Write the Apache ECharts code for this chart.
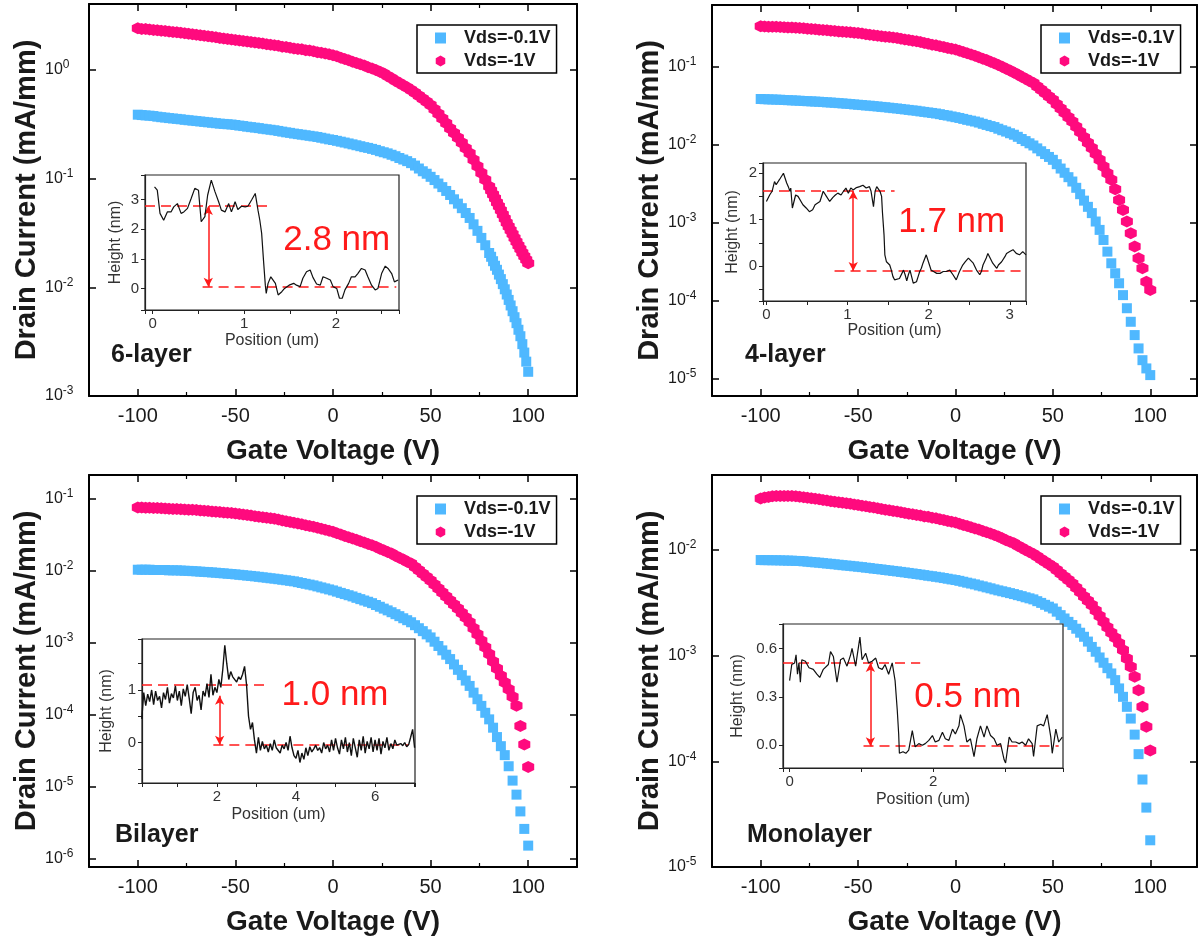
<!DOCTYPE html>
<html>
<head>
<meta charset="utf-8">
<title>Drain current vs gate voltage</title>
<script src="https://cdn.jsdelivr.net/npm/echarts@6.0.0/dist/echarts.min.js"></script>
<style>
html,body{margin:0;padding:0;background:#fff;}
#chart{width:1198px;height:942px;}
</style>
</head>
<body>
<div id="chart"></div>
<script>
// ================= DATA =================
const gateVoltage = [-100,-98,-96,-94,-92,-90,-88,-86,-84,-82,-80,-78,-76,-74,-72,-70,-68,-66,-64,-62,-60,-58,-56,-54,-52,-50,-48,-46,-44,-42,-40,-38,-36,-34,-32,-30,-28,-26,-24,-22,-20,-18,-16,-14,-12,-10,-8,-6,-4,-2,0,2,4,6,8,10,12,14,16,18,20,22,24,26,28,30,32,34,36,38,40,42,44,46,48,50,52,54,56,58,60,62,64,66,68,70,72,74,76,78,80,82,84,86,88,90,92,94,96,98,100];
// the 6-layer sweep is recorded with a finer step above 80 V
const gateVoltageSix = [-100,-98,-96,-94,-92,-90,-88,-86,-84,-82,-80,-78,-76,-74,-72,-70,-68,-66,-64,-62,-60,-58,-56,-54,-52,-50,-48,-46,-44,-42,-40,-38,-36,-34,-32,-30,-28,-26,-24,-22,-20,-18,-16,-14,-12,-10,-8,-6,-4,-2,0,2,4,6,8,10,12,14,16,18,20,22,24,26,28,30,32,34,36,38,40,42,44,46,48,50,52,54,56,58,60,62,64,66,68,70,72,74,76,78,80,81,82,83,84,85,86,87,88,89,90,91,92,93,94,95,96,97,98,99,100];
const seriesNames = ['Vds=-0.1V', 'Vds=-1V'];
const gateTickLabels = [-100, -50, 0, 50, 100];

// 6-layer
const sixLayerLow = [0.388,0.385,0.382,0.380,0.377,0.372,0.368,0.365,0.361,0.358,0.355,0.352,0.348,0.345,0.342,0.339,0.336,0.333,0.330,0.327,0.324,0.321,0.319,0.317,0.315,0.312,0.308,0.305,0.301,0.298,0.295,0.292,0.288,0.285,0.282,0.279,0.275,0.271,0.267,0.264,0.260,0.257,0.254,0.251,0.248,0.245,0.242,0.238,0.234,0.230,0.227,0.223,0.219,0.215,0.211,0.207,0.203,0.199,0.195,0.192,0.188,0.184,0.179,0.175,0.171,0.166,0.161,0.155,0.150,0.145,0.139,0.132,0.124,0.117,0.111,0.104,0.0971,0.0902,0.0836,0.0771,0.0708,0.0646,0.0589,0.0535,0.0483,0.0435,0.0380,0.0331,0.0285,0.0244,0.0207,0.0191,0.0174,0.0158,0.0145,0.0131,0.0119,0.0107,0.00959,0.00859,0.00766,0.00681,0.00603,0.00531,0.00468,0.00407,0.00355,0.00300,0.00251,0.00207,0.00167];
const sixLayerHigh = [2.42,2.39,2.38,2.36,2.34,2.32,2.30,2.28,2.26,2.24,2.22,2.20,2.18,2.16,2.13,2.11,2.09,2.07,2.04,2.02,2.00,1.97,1.95,1.93,1.91,1.89,1.87,1.85,1.83,1.81,1.79,1.77,1.75,1.73,1.71,1.69,1.67,1.64,1.63,1.60,1.58,1.56,1.55,1.52,1.51,1.49,1.46,1.44,1.42,1.40,1.37,1.34,1.30,1.26,1.23,1.19,1.16,1.13,1.10,1.06,1.03,1.00,0.964,0.931,0.883,0.838,0.798,0.759,0.723,0.689,0.655,0.617,0.579,0.545,0.511,0.476,0.435,0.395,0.358,0.324,0.290,0.263,0.238,0.214,0.191,0.171,0.149,0.130,0.113,0.0979,0.0845,0.0778,0.0716,0.0659,0.0605,0.0556,0.0511,0.0469,0.0431,0.0394,0.0362,0.0335,0.0309,0.0285,0.0263,0.0243,0.0225,0.0208,0.0193,0.0179,0.0167];

// 4-layer
const fourLayerLow = [0.0385,0.0383,0.0381,0.0380,0.0378,0.0377,0.0374,0.0372,0.0370,0.0368,0.0366,0.0363,0.0361,0.0359,0.0357,0.0355,0.0352,0.0349,0.0347,0.0344,0.0341,0.0338,0.0335,0.0332,0.0328,0.0325,0.0322,0.0318,0.0316,0.0312,0.0309,0.0305,0.0302,0.0298,0.0294,0.0291,0.0287,0.0283,0.0279,0.0275,0.0272,0.0267,0.0263,0.0259,0.0255,0.0251,0.0246,0.0240,0.0236,0.0230,0.0225,0.0220,0.0214,0.0208,0.0203,0.0198,0.0192,0.0185,0.0179,0.0173,0.0168,0.0160,0.0153,0.0147,0.0140,0.0134,0.0126,0.0118,0.0111,0.0104,0.00975,0.00895,0.00822,0.00757,0.00695,0.00638,0.00561,0.00493,0.00435,0.00382,0.00336,0.00279,0.00231,0.00191,0.00159,0.00132,0.00103,0.000804,0.000597,0.000423,0.000300,0.000223,0.000166,0.000117,0.0000794,0.0000532,0.0000359,0.0000242,0.0000171,0.0000134,0.0000110];
const fourLayerHigh = [0.330,0.328,0.327,0.326,0.325,0.324,0.321,0.320,0.318,0.316,0.314,0.311,0.308,0.305,0.302,0.299,0.296,0.293,0.290,0.287,0.284,0.282,0.279,0.277,0.274,0.271,0.267,0.262,0.258,0.254,0.250,0.247,0.243,0.240,0.237,0.233,0.229,0.224,0.220,0.216,0.212,0.207,0.202,0.197,0.192,0.188,0.183,0.179,0.174,0.170,0.166,0.160,0.154,0.149,0.144,0.138,0.132,0.127,0.122,0.116,0.111,0.105,0.0998,0.0944,0.0893,0.0845,0.0794,0.0745,0.0700,0.0656,0.0617,0.0558,0.0506,0.0459,0.0416,0.0377,0.0331,0.0291,0.0256,0.0225,0.0198,0.0169,0.0145,0.0124,0.0106,0.00902,0.00762,0.00638,0.00524,0.00430,0.00353,0.00268,0.00195,0.00145,0.00103,0.000728,0.000491,0.000348,0.000258,0.000174,0.000136];

// Bilayer
const biLayerLow = [0.0102,0.0102,0.0102,0.0102,0.0101,0.0101,0.0101,0.0101,0.0100,0.0100,0.0100,0.00993,0.00987,0.00982,0.00975,0.00968,0.00959,0.00951,0.00944,0.00935,0.00927,0.00916,0.00908,0.00897,0.00889,0.00879,0.00867,0.00857,0.00845,0.00836,0.00824,0.00813,0.00800,0.00789,0.00776,0.00766,0.00753,0.00740,0.00728,0.00715,0.00703,0.00685,0.00667,0.00650,0.00634,0.00618,0.00598,0.00579,0.00561,0.00543,0.00526,0.00506,0.00486,0.00468,0.00451,0.00434,0.00415,0.00398,0.00381,0.00366,0.00350,0.00330,0.00312,0.00294,0.00278,0.00262,0.00246,0.00231,0.00216,0.00203,0.00190,0.00173,0.00157,0.00143,0.00129,0.00117,0.00102,0.000889,0.000773,0.000673,0.000585,0.000493,0.000415,0.000350,0.000294,0.000248,0.000200,0.000162,0.000131,0.000105,0.0000851,0.0000652,0.0000483,0.0000361,0.0000271,0.0000190,0.0000120,0.00000766,0.00000448,0.00000256,0.00000150];
const biLayerHigh = [0.0748,0.0745,0.0741,0.0740,0.0736,0.0733,0.0728,0.0723,0.0719,0.0714,0.0710,0.0705,0.0700,0.0697,0.0692,0.0687,0.0679,0.0673,0.0665,0.0659,0.0652,0.0644,0.0638,0.0631,0.0625,0.0618,0.0607,0.0597,0.0586,0.0577,0.0566,0.0557,0.0547,0.0538,0.0528,0.0520,0.0507,0.0494,0.0481,0.0469,0.0457,0.0446,0.0435,0.0424,0.0413,0.0403,0.0390,0.0378,0.0366,0.0354,0.0343,0.0328,0.0315,0.0301,0.0289,0.0277,0.0265,0.0254,0.0243,0.0233,0.0223,0.0212,0.0200,0.0190,0.0180,0.0171,0.0160,0.0150,0.0141,0.0132,0.0124,0.0111,0.0100,0.00897,0.00807,0.00724,0.00638,0.00561,0.00493,0.00434,0.00381,0.00336,0.00295,0.00256,0.00221,0.00190,0.00157,0.00129,0.00105,0.000851,0.000687,0.000543,0.000434,0.000343,0.000277,0.000223,0.000175,0.000131,0.0000687,0.0000381,0.0000186];

// Monolayer
const monoLayerLow = [0.00804,0.00802,0.00802,0.00800,0.00800,0.00798,0.00796,0.00794,0.00793,0.00789,0.00787,0.00782,0.00776,0.00769,0.00764,0.00759,0.00752,0.00745,0.00740,0.00733,0.00726,0.00719,0.00713,0.00708,0.00701,0.00695,0.00689,0.00681,0.00675,0.00667,0.00661,0.00655,0.00647,0.00641,0.00634,0.00628,0.00621,0.00614,0.00607,0.00600,0.00593,0.00586,0.00579,0.00571,0.00565,0.00558,0.00551,0.00543,0.00535,0.00527,0.00520,0.00511,0.00501,0.00491,0.00482,0.00473,0.00462,0.00453,0.00443,0.00434,0.00424,0.00415,0.00407,0.00399,0.00391,0.00383,0.00374,0.00366,0.00357,0.00349,0.00341,0.00328,0.00316,0.00303,0.00291,0.00280,0.00261,0.00242,0.00225,0.00209,0.00195,0.00180,0.00165,0.00151,0.00136,0.00121,0.00109,0.000962,0.000857,0.000762,0.000679,0.000587,0.000490,0.000408,0.000328,0.000254,0.000179,0.000117,0.0000673,0.0000365,0.0000179];
const monoLayerHigh = [0.0308,0.0314,0.0318,0.0322,0.0324,0.0325,0.0325,0.0325,0.0324,0.0322,0.0320,0.0316,0.0313,0.0309,0.0305,0.0302,0.0298,0.0294,0.0290,0.0287,0.0283,0.0280,0.0277,0.0274,0.0270,0.0267,0.0263,0.0259,0.0255,0.0252,0.0248,0.0245,0.0241,0.0238,0.0234,0.0231,0.0228,0.0224,0.0221,0.0218,0.0215,0.0212,0.0208,0.0206,0.0202,0.0200,0.0196,0.0192,0.0188,0.0185,0.0182,0.0177,0.0173,0.0169,0.0164,0.0160,0.0156,0.0151,0.0147,0.0143,0.0139,0.0134,0.0129,0.0124,0.0120,0.0116,0.0110,0.0105,0.0100,0.00959,0.00916,0.00867,0.00820,0.00776,0.00735,0.00695,0.00646,0.00601,0.00558,0.00520,0.00483,0.00440,0.00400,0.00364,0.00331,0.00301,0.00267,0.00237,0.00210,0.00186,0.00165,0.00148,0.00131,0.00113,0.000942,0.000785,0.000631,0.000472,0.000328,0.000212,0.000127];

// AFM height profiles (insets): position (um) and height (nm)
const sixProfileX = [0.02,0.05,0.08,0.12,0.16,0.20,0.23,0.27,0.31,0.34,0.38,0.42,0.46,0.50,0.53,0.57,0.60,0.64,0.68,0.72,0.75,0.79,0.83,0.86,0.90,0.93,0.97,1.01,1.04,1.08,1.12,1.15,1.17,1.19,1.21,1.23,1.24,1.26,1.29,1.31,1.34,1.37,1.41,1.44,1.49,1.54,1.57,1.61,1.64,1.68,1.72,1.75,1.79,1.83,1.86,1.90,1.94,1.97,2.01,2.04,2.07,2.10,2.14,2.17,2.21,2.24,2.28,2.32,2.35,2.39,2.43,2.46,2.50,2.54,2.57,2.61,2.64,2.68];
const sixProfileY = [3.42,3.31,2.53,2.30,2.58,2.58,2.75,2.86,2.53,2.58,2.70,3.03,3.37,3.31,2.25,2.42,3.14,3.65,3.26,2.92,2.64,2.58,2.86,2.58,2.92,2.66,2.77,2.75,2.77,2.98,3.20,2.64,2.30,1.86,0.96,0.12,-0.16,0.18,0.40,0.38,0.18,-0.21,-0.10,0.01,0.12,0.18,0.12,0.07,0.35,0.57,0.63,0.38,0.16,0.12,0.40,0.35,0.29,0.07,0.01,-0.32,-0.32,-0.04,0.18,0.40,0.40,0.51,0.68,0.63,0.40,0.12,-0.04,0.01,0.51,0.76,0.68,0.51,0.23,0.29];
const fourProfileX = [0.00,0.04,0.07,0.10,0.12,0.16,0.18,0.21,0.23,0.25,0.27,0.29,0.30,0.32,0.34,0.36,0.39,0.41,0.45,0.49,0.53,0.57,0.60,0.62,0.66,0.70,0.74,0.78,0.82,0.85,0.88,0.92,0.95,0.98,1.01,1.04,1.07,1.11,1.15,1.19,1.23,1.27,1.29,1.32,1.34,1.36,1.38,1.40,1.42,1.43,1.45,1.46,1.48,1.50,1.52,1.54,1.56,1.58,1.60,1.64,1.69,1.71,1.73,1.75,1.77,1.79,1.81,1.83,1.85,1.87,1.89,1.91,1.93,1.97,1.99,2.01,2.03,2.06,2.10,2.12,2.14,2.18,2.22,2.24,2.26,2.28,2.30,2.34,2.38,2.40,2.42,2.45,2.47,2.49,2.51,2.55,2.59,2.63,2.65,2.67,2.71,2.73,2.75,2.79,2.84,2.86,2.90,2.94,2.96,3.00,3.04,3.08,3.12,3.16,3.20];
const fourProfileY = [1.39,1.53,1.61,1.82,1.75,1.86,1.82,2.00,1.97,1.79,1.71,1.61,1.68,1.25,1.39,1.53,1.50,1.46,1.32,1.25,1.17,1.21,1.32,1.35,1.39,1.61,1.50,1.39,1.48,1.53,1.57,1.53,1.61,1.68,1.57,1.68,1.64,1.69,1.71,1.74,1.68,1.71,1.61,1.28,1.61,1.71,1.68,1.61,1.50,1.17,0.67,0.24,0.09,0.13,0.02,-0.09,-0.23,-0.30,-0.34,-0.27,-0.09,-0.19,-0.32,-0.19,-0.09,-0.23,-0.37,-0.41,-0.34,-0.23,-0.12,-0.05,0.06,0.24,0.20,0.02,-0.09,-0.12,-0.16,-0.19,-0.16,-0.12,-0.12,-0.16,-0.09,-0.12,-0.19,-0.30,-0.12,-0.09,0.02,0.09,0.06,0.17,0.20,0.06,-0.09,-0.19,-0.12,0.02,0.17,0.27,0.24,0.06,-0.05,0.02,0.09,0.20,0.27,0.31,0.35,0.27,0.24,0.31,0.24];
const biProfileX = [0.10,0.15,0.20,0.25,0.30,0.35,0.40,0.45,0.50,0.55,0.60,0.65,0.70,0.75,0.80,0.85,0.90,0.95,1.00,1.05,1.10,1.15,1.20,1.25,1.30,1.35,1.40,1.45,1.50,1.55,1.60,1.65,1.70,1.75,1.80,1.85,1.90,1.95,2.00,2.05,2.10,2.15,2.20,2.25,2.30,2.35,2.40,2.45,2.50,2.55,2.60,2.65,2.70,2.75,2.80,2.85,2.90,2.95,3.00,3.05,3.10,3.15,3.20,3.25,3.30,3.35,3.40,3.45,3.50,3.55,3.60,3.65,3.70,3.75,3.80,3.85,3.90,3.95,4.00,4.05,4.10,4.15,4.20,4.25,4.30,4.35,4.40,4.45,4.50,4.55,4.60,4.65,4.70,4.75,4.80,4.85,4.90,4.95,5.00,5.05,5.10,5.15,5.20,5.25,5.30,5.35,5.40,5.45,5.50,5.55,5.60,5.65,5.70,5.75,5.80,5.85,5.90,5.95,6.00,6.05,6.10,6.15,6.20,6.25,6.30,6.35,6.40,6.45,6.50,6.55,6.60,6.65,6.70,6.75,6.80,6.85,6.90,6.95,7.00];
const biProfileY = [0.45,0.95,0.70,0.92,0.78,1.00,0.72,0.98,0.80,0.88,0.66,0.95,0.82,1.05,0.75,0.93,0.85,1.08,0.80,0.98,0.70,1.02,0.88,1.10,0.84,0.55,0.95,1.05,0.80,0.90,0.62,0.98,0.88,1.12,0.86,1.30,0.90,1.05,0.95,1.20,1.05,1.40,1.85,1.50,1.20,1.35,1.25,1.22,1.15,1.25,1.20,1.30,1.45,1.10,0.50,0.25,0.38,0.05,-0.20,0.10,-0.15,0.02,-0.12,-0.05,-0.18,-0.02,-0.15,0.05,-0.10,-0.08,-0.20,-0.05,-0.12,0.00,-0.15,0.12,-0.10,-0.25,-0.30,-0.15,-0.38,-0.20,-0.32,-0.10,-0.25,-0.08,-0.18,-0.12,-0.05,-0.15,-0.10,-0.20,0.00,-0.12,-0.05,-0.18,0.05,-0.15,0.08,-0.10,-0.22,0.05,-0.12,0.10,-0.18,0.00,-0.25,0.08,-0.10,-0.28,0.05,-0.15,0.12,-0.20,0.02,-0.12,0.10,-0.18,0.05,-0.15,0.08,-0.22,0.02,-0.10,0.10,-0.15,-0.02,-0.12,0.05,-0.05,-0.08,-0.02,-0.06,0.00,-0.08,-0.04,0.10,0.25,-0.10];
const monoProfileX = [0.00,0.03,0.07,0.09,0.11,0.13,0.15,0.17,0.22,0.27,0.33,0.38,0.42,0.47,0.54,0.57,0.61,0.66,0.71,0.75,0.80,0.85,0.87,0.92,0.94,0.98,1.01,1.06,1.10,1.15,1.20,1.24,1.29,1.33,1.38,1.43,1.47,1.50,1.52,1.53,1.58,1.62,1.66,1.71,1.75,1.80,1.85,1.89,1.94,1.99,2.03,2.08,2.13,2.17,2.22,2.27,2.31,2.36,2.38,2.43,2.47,2.52,2.57,2.61,2.66,2.71,2.75,2.80,2.85,2.89,2.94,2.99,3.01,3.06,3.10,3.15,3.20,3.24,3.29,3.33,3.38,3.40,3.45,3.50,3.54,3.59,3.64,3.66,3.71,3.75,3.80];
const monoProfileY = [0.40,0.50,0.51,0.56,0.44,0.51,0.39,0.53,0.52,0.48,0.47,0.44,0.42,0.47,0.50,0.58,0.55,0.39,0.53,0.54,0.49,0.56,0.60,0.49,0.55,0.67,0.53,0.57,0.51,0.52,0.54,0.48,0.47,0.50,0.44,0.51,0.40,0.22,0.07,-0.05,-0.04,-0.05,-0.03,0.09,-0.01,0.01,0.00,0.01,0.03,0.06,0.02,0.03,0.08,0.04,0.03,0.10,0.07,0.12,0.19,0.12,0.02,0.04,-0.07,0.04,0.12,0.05,0.12,0.06,0.04,0.00,0.01,-0.09,-0.11,0.05,0.02,0.02,0.01,0.02,0.00,0.04,0.01,-0.07,0.12,0.13,0.12,0.19,0.05,-0.05,0.10,0.02,0.05];

// step heights: [upper terrace level, lower terrace level] in nm
const sixStep = [2.78, 0.07];
const fourStep = [1.62, -0.11];
const biStep = [1.09, -0.04];
const monoStep = [0.51, -0.006];
const stepLabels = ['2.8 nm', '1.7 nm', '1.0 nm', '0.5 nm'];
const panelTags = ['6-layer', '4-layer', 'Bilayer', 'Monolayer'];

// ================= STYLE / LAYOUT =================
const FONT = '"Liberation Sans", Arial, Helvetica, sans-serif';
const BLUE = '#4FB8FF';
const PINK = '#FF0A7E';
const RED = '#FF1A1A';
const TXT = '#1a1a1a';
const HEX = 'path://M-8.66,-5L0,-10L8.66,-5L8.66,5L0,10L-8.66,5Z';

const panels = [
  {box:[89,4,488,392], x:[-125,125], y:[1e-3,4.05], v:gateVoltageSix, low:sixLayerLow, high:sixLayerHigh, legend:[417,25], tagPos:[111,355],
   inset:{box:[145,175,254,135], x:[-0.084,2.69], y:[-0.715,3.82], ySplit:5, px:sixProfileX, py:sixProfileY, step:sixStep,
          upper:[-0.084,1.28], lower:[0.545,2.66], arrowX:0.607, arrowTop:sixStep[0], textPos:[336.7,240.5],
          xGap:23, yGap:21, xFmt:'int', yFmt:'int', lw:1.2}},
  {box:[712,5,485,391], x:[-125,124], y:[5.93e-6,0.62], v:gateVoltage, low:fourLayerLow, high:fourLayerHigh, legend:[1041,25], tagPos:[745,355],
   inset:{box:[763,163,263,138], x:[-0.042,3.2], y:[-0.756,2.22], ySplit:5, px:fourProfileX, py:fourProfileY, step:fourStep,
          upper:[-0.042,1.58], lower:[0.84,3.2], arrowX:1.07, arrowTop:fourStep[0], textPos:[951.7,222.5],
          xGap:22, yGap:22, xFmt:'int', yFmt:'int', lw:1.2}},
  {box:[89,475,488,392], x:[-125,125], y:[7.57e-7,0.211], v:gateVoltage, low:biLayerLow, high:biLayerHigh, legend:[417,496], tagPos:[115,835],
   inset:{box:[142,639,273,144], x:[0.106,7.01], y:[-0.77,1.97], ySplit:5, px:biProfileX, py:biProfileY, step:biStep,
          upper:[0.106,3.30], lower:[1.91,6.84], arrowX:2.07, arrowTop:0.89, textPos:[335,695.3],
          xGap:24, yGap:27, xFmt:'even', yFmt:'int', lw:1.4}},
  {box:[712,475,485,392], x:[-125,124], y:[1e-5,0.0513], v:gateVoltage, low:monoLayerLow, high:monoLayerHigh, legend:[1041,496], tagPos:[747,835],
   inset:{box:[783,624,280,144], x:[-0.092,3.81], y:[-0.141,0.751], ySplit:3, px:monoProfileX, py:monoProfileY, step:monoStep,
          upper:[-0.092,1.82], lower:[1.03,3.75], arrowX:1.126, arrowTop:monoStep[0], textPos:[967.8,697.7],
          xGap:24, yGap:37, xFmt:'even', yFmt:'tenth3', lw:1.2}}
];

function near(a, b) { return Math.abs(a - b) < 1e-6; }
function fmtLog(v) {
  const e = Math.log10(v); const r = Math.round(e);
  if (!near(e, r)) return '';
  return '{b|10}{s|' + (r === 0 ? '0' : String(r)) + '}';
}
function fmtGate(v) { return gateTickLabels.some(t => near(t, v)) ? String(Math.round(v)) : ''; }
const insetFmt = {
  int: v => near(v, Math.round(v)) ? String(Math.round(v)) : '',
  even: v => (near(v, Math.round(v)) && Math.round(v) % 2 === 0) ? String(Math.round(v)) : '',
  tenth3: v => { const k = Math.round(v / 0.3); return near(v, k * 0.3) ? (k * 0.3).toFixed(1) : ''; }
};

const option = {
  animation: false,
  backgroundColor: '#ffffff',
  textStyle: {fontFamily: FONT},
  grid: [], xAxis: [], yAxis: [], series: [], legend: [], graphic: []
};

panels.forEach((p, k) => {
  // ---- main plot ----
  const g = option.grid.length;
  option.grid.push({left:p.box[0], top:p.box[1], width:p.box[2], height:p.box[3], show:false, containLabel:false, outerBoundsMode:'none'});
  const xi = option.xAxis.length;
  [true, false].forEach(primary => {
    option.xAxis.push({
      gridIndex:g, type:'value', min:p.x[0], max:p.x[1], position: primary ? 'bottom' : 'top',
      axisLine:{show:true, onZero:false, lineStyle:{color:'#000', width:2}},
      axisTick:{show:true, inside:true, length:7, lineStyle:{color:'#000', width:1.5}},
      minorTick:{show:true, splitNumber:2, length:4, lineStyle:{color:'#000', width:1.2}},
      splitLine:{show:false}, minorSplitLine:{show:false},
      axisLabel: primary ? {show:true, fontSize:20, color:TXT, margin:10, formatter:fmtGate} : {show:false},
      name: primary ? 'Gate Voltage (V)' : '', nameLocation:'middle', nameGap:41,
      nameTextStyle:{fontSize:28, fontWeight:'bold', color:TXT}
    });
  });
  const yi = option.yAxis.length;
  [true, false].forEach(primary => {
    option.yAxis.push({
      gridIndex:g, type:'log', logBase:10, min:p.y[0], max:p.y[1], position: primary ? 'left' : 'right',
      axisLine:{show:true, onZero:false, lineStyle:{color:'#000', width:2}},
      axisTick:{show:true, inside:true, length:7, lineStyle:{color:'#000', width:1.5}},
      splitLine:{show:false}, minorSplitLine:{show:false},
      axisLabel: primary ? {show:true, align:'left', margin:44, formatter:fmtLog,
        rich:{b:{fontSize:16, color:TXT, lineHeight:16}, s:{fontSize:12, color:TXT, lineHeight:12, padding:[0,0,10,0]}}} : {show:false},
      name: primary ? 'Drain Current (mA/mm)' : '', nameLocation:'middle', nameGap:48, nameRotate:90,
      nameTextStyle:{fontSize:29, fontWeight:'bold', color:TXT}
    });
  });
  option.series.push({
    type:'scatter', name:seriesNames[0], xAxisIndex:xi, yAxisIndex:yi, silent:true, z:2,
    data: p.v.map((v, i) => [v, p.low[i]]), symbol:'rect', symbolSize:10, itemStyle:{color:BLUE, opacity:1}
  });
  option.series.push({
    type:'scatter', name:seriesNames[1], xAxisIndex:xi, yAxisIndex:yi, silent:true, z:2,
    data: p.v.map((v, i) => [v, p.high[i]]), symbol:HEX, symbolSize:12, itemStyle:{color:PINK, opacity:1}
  });
  option.legend.push({
    left:p.legend[0], top:p.legend[1], orient:'vertical', selectedMode:false,
    itemWidth:11, itemHeight:11, itemGap:5, padding:[4,6,3,18],
    borderColor:'#000', borderWidth:1.5, backgroundColor:'#fff',
    textStyle:{fontSize:18, fontWeight:'bold', color:TXT, padding:[0,0,0,13]},
    data:[{name:seriesNames[0], icon:'rect'}, {name:seriesNames[1], icon:HEX}]
  });
  option.graphic.push({type:'text', x:p.tagPos[0], y:p.tagPos[1], z:100,
    style:{text:panelTags[k], fontSize:25, fontWeight:'bold', fill:TXT, font:'bold 25px ' + FONT, verticalAlign:'middle', align:'left'}});

  // ---- inset (AFM step height profile) ----
  const q = p.inset;
  const gi = option.grid.length;
  option.grid.push({left:q.box[0], top:q.box[1], width:q.box[2], height:q.box[3], show:true,
    borderColor:'#222', borderWidth:1.2, backgroundColor:'#fff', z:3, containLabel:false, outerBoundsMode:'none'});
  const ixi = option.xAxis.length;
  option.xAxis.push({
    gridIndex:gi, type:'value', min:q.x[0], max:q.x[1], z:4,
    axisLine:{show:true, onZero:false, lineStyle:{color:'#222', width:1.2}},
    axisTick:{show:true, inside:false, length:4, lineStyle:{color:'#222', width:1}},
    splitLine:{show:false},
    axisLabel:{show:true, fontSize:15, color:'#333', margin:6, formatter:insetFmt[q.xFmt]},
    name:'Position (um)', nameLocation:'middle', nameGap:q.xGap, nameTextStyle:{fontSize:16, color:'#333'}
  });
  const iyi = option.yAxis.length;
  option.yAxis.push({
    gridIndex:gi, type:'value', min:q.y[0], max:q.y[1], splitNumber:q.ySplit, z:4,
    axisLine:{show:true, onZero:false, lineStyle:{color:'#222', width:1.2}},
    axisTick:{show:true, inside:false, length:4, lineStyle:{color:'#222', width:1}},
    splitLine:{show:false},
    axisLabel:{show:true, fontSize:15, color:'#333', margin:6, formatter:insetFmt[q.yFmt]},
    name:'Height (nm)', nameLocation:'middle', nameGap:q.yGap, nameRotate:90, nameTextStyle:{fontSize:16, color:'#333'}
  });
  option.series.push({
    type:'line', xAxisIndex:ixi, yAxisIndex:iyi, silent:true, z:5, symbol:'none',
    data: q.px.map((x, i) => [x, q.py[i]]),
    lineStyle:{color:'#111', width:q.lw},
    markLine:{
      silent:true, symbol:['none','none'], animation:false,
      label:{show:false},
      lineStyle:{color:RED, width:1.5, type:[10,6]},
      emphasis:{disabled:true},
      data:[
        [{coord:[q.upper[0], q.step[0]]}, {coord:[q.upper[1], q.step[0]]}],
        [{coord:[q.lower[0], q.step[1]]}, {coord:[q.lower[1], q.step[1]]}],
        [{coord:[q.arrowX, q.arrowTop], symbol:'arrow', symbolSize:[7,9], lineStyle:{type:'solid', color:RED, width:1.5}},
         {coord:[q.arrowX, q.step[1]], symbol:'arrow', symbolSize:[7,9]}]
      ]
    }
  });
  option.graphic.push({type:'text', x:q.textPos[0], y:q.textPos[1], z:100,
    style:{text:stepLabels[k], fontSize:35, fill:RED, font:'35px ' + FONT, align:'center', verticalAlign:'middle'}});
});

const chart = echarts.init(document.getElementById('chart'), null, {renderer:'canvas'});
chart.setOption(option);
</script>
</body>
</html>
